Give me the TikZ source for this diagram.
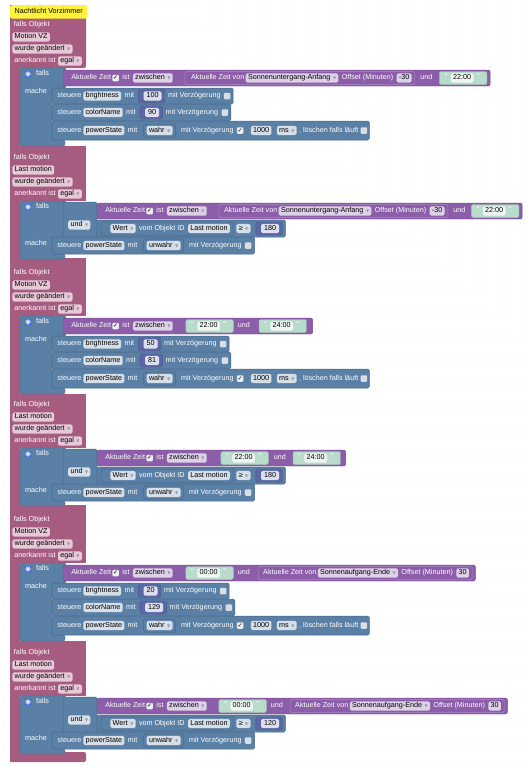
\documentclass[tikz,border=0pt]{standalone}
\usepackage{fontspec}
\setmainfont{Liberation Sans}
\newfontfamily\djv{DejaVu Sans}
\usetikzlibrary{calc}
\definecolor{pinkc}{HTML}{A65B80}
\definecolor{fkc}{HTML}{E6C8D7}
\definecolor{bluec}{HTML}{5B80A5}
\definecolor{blued}{HTML}{47688A}
\definecolor{fbc}{HTML}{D6DEE8}
\definecolor{purpc}{HTML}{8C5DA8}
\definecolor{purpd}{HTML}{734A8E}
\definecolor{purpl}{HTML}{A98CC2}
\definecolor{fpc}{HTML}{DDD1E8}
\definecolor{numc}{HTML}{5B67A5}
\definecolor{numd}{HTML}{4A558E}
\definecolor{fnc}{HTML}{DCDEEE}
\definecolor{strc}{HTML}{B8DBCC}
\definecolor{strd}{HTML}{9EC4B4}
\definecolor{fsc}{HTML}{F0F7F3}
\definecolor{chkc}{HTML}{D9DEE4}
\definecolor{ddc}{HTML}{8E96A2}
\definecolor{dotc}{HTML}{CFCFCF}
\definecolor{yelc}{HTML}{FFF23C}
\definecolor{gearc}{HTML}{3F6AD8}
\pgfdeclarelayer{gridL}\pgfdeclarelayer{pinkL}\pgfdeclarelayer{blueL}\pgfdeclarelayer{rowL}\pgfdeclarelayer{innerL}
\pgfsetlayers{gridL,pinkL,blueL,rowL,innerL,main}
\newcommand\Fs{\fontsize{7.2}{8.5}\selectfont}
\newcommand\Dd[1]{#1\hspace{2.5pt}\textcolor{ddc}{\djv\fontsize{4}{4}\selectfont ▼}}
\newcommand\CK{{\djv\fontsize{6}{6}\selectfont ✓}}
\newcommand\At[2]{\node[inner sep=0pt,minimum size=0pt] (last) at (#1,#2) {};}
\newcommand\Nx[3][3]{\node[#2,anchor=west] (last) at ([xshift=#1pt]last.east) {#3};}
\newcommand\Bs[1]{\coordinate (is) at ([xshift=#1pt]last.east);}
\newcommand\First[3][5]{\node[#2,anchor=west] (last) at ([xshift=#1pt]is) {#3};}
\newcommand\Blk[6]{%
  \pgfmathsetmacro\tya{-(#4)}\pgfmathsetmacro\tyb{-(#5)}%
  \begin{pgfonlayer}{#1}%
  \path[#2] let \p1=(last.east), \p2=#3 in (\x2,\tya pt) rectangle (\x1+#6pt,\tyb pt);%
  \end{pgfonlayer}%
  \node[inner sep=0pt,minimum size=0pt] (last) at ([xshift=#6pt]last.east) {};}
\newcommand\Str[2][7]{\Bs{#1}\First[5]{qt}{“}\Nx[3]{fs}{#2}\Nx[3]{qt}{”}\Blk{innerL}{strb}{(is)}{\B+3.5}{\B+16.5}{7}}
\newcommand\Num[3][4]{\Bs{#1}\First[5]{fn}{#3}\Blk{innerL}{numb}{(is)}{#2-6.5}{#2+6.5}{3}}
\newcommand\AZV[4][6]{\Bs{#2}\First[#1]{lbl}{Aktuelle Zeit von}\Nx[1]{fp}{\Dd{#3}}\Nx[3]{lbl}{Offset (Minuten)}\Nx[3]{fp}{#4}\Blk{innerL}{purpin}{(is)}{\B+3.5}{\B+16.5}{3}}
\newcommand\Header[1]{%
  \At{13.5}{\B-43}\Nx[0]{lbl}{falls Objekt}
  \At{12}{\B-31}\Nx[0]{fk}{#1}
  \At{12}{\B-19}\Nx[0]{fk}{\Dd{wurde geändert}}
  \At{14}{\B-7}\Nx[0]{lbl}{anerkannt ist}\Nx[2]{fk}{\Dd{egal}}}
\newcommand\GearFalls{%
  \node[gearbox] (gear) at (28,\B+6) {};
  \draw[white,line width=0.8pt] (gear.center) circle (1.3pt);
  \draw[white,line width=0.7pt,dash pattern=on 0.8pt off 0.8pt] (gear.center) circle (2.3pt);
  \node[lbl,anchor=west] (fallslbl) at (36,\B+6) {falls};}
\newcommand\PurpHead[1]{\At{#1}{\B+10}\Nx[0]{lbl}{Aktuelle Zeit}\Nx[1]{chkon}{\CK}\Nx[3]{lbl}{ist}\Nx[3]{fp}{\Dd{zwischen}}}
\newcommand\SteuA[4]{%
  \pgfmathsetmacro\yc{(#1+#2)/2}%
  \At{57}{\yc}\Nx[0]{lbl}{steuere}\Nx[1.5]{fb}{#3}\Nx[3]{lbl}{mit}%
  \Num[4]{\yc}{#4}%
  \Nx[3]{lbl}{mit Verzögerung}\Nx[3]{chk}{}%
  \Blk{rowL}{steu}{(52,0)}{#1}{#2}{2.5}}
\newcommand\SteuP[2]{%
  \pgfmathsetmacro\yc{(#1+#2)/2}%
  \At{57}{\yc}\Nx[0]{lbl}{steuere}\Nx[1.5]{fb}{powerState}\Nx[3]{lbl}{mit}%
  \Bs{6}\First[3]{fb}{\Dd{wahr}}\Blk{innerL}{boolb}{(is)}{\yc-6.5}{\yc+6.5}{3}%
  \Nx[5]{lbl}{mit Verzögerung}\Nx[3]{chkon}{\CK}\Nx[7]{fb}{1000}\Nx[5]{fb}{\Dd{ms}}\Nx[2]{lbl}{, löschen falls läuft}\Nx[2]{chk}{}%
  \Blk{rowL}{steu}{(52,0)}{#1}{#2}{2}}
\newcommand\SteuU[2]{%
  \pgfmathsetmacro\yc{(#1+#2)/2}%
  \At{57}{\yc}\Nx[0]{lbl}{steuere}\Nx[1.5]{fb}{powerState}\Nx[3]{lbl}{mit}%
  \Bs{6}\First[3]{fb}{\Dd{unwahr}}\Blk{innerL}{boolb}{(is)}{\yc-6.5}{\yc+6.5}{3}%
  \Nx[5]{lbl}{mit Verzögerung}\Nx[3]{chk}{}%
  \Blk{rowL}{steu}{(52,0)}{#1}{#2}{3}}
\newcommand\SecA[5]{%
  \def\B{#1}%
  \Header{Motion VZ}%
  \begin{pgfonlayer}{blueL}
  \draw[bluef] (20,\B) -- (66,\B) -- (66,\B+20) -- (52,\B+20) -- (52,\B+72) -- (65,\B+72) -- (65,\B+78) -- (20,\B+78) -- cycle;
  \end{pgfonlayer}
  \GearFalls
  \node[lbl,anchor=west] (machelbl) at (25,\B+24) {mache};
  \PurpHead{71}#4\Blk{rowL}{purp}{(63,0)}{\B+2}{\B+18}{#5}%
  \SteuA{\B+20}{\B+36}{brightness}{#2}%
  \SteuA{\B+36}{\B+53}{colorName}{#3}%
  \SteuP{\B+53}{\B+72}}
\newcommand\SecB[4]{%
  \def\B{#1}%
  \Header{Last motion}%
  \begin{pgfonlayer}{blueL}
  \draw[bluef] (20,\B) -- (66,\B) -- (66,\B+36) -- (52,\B+36) -- (52,\B+53) -- (65,\B+53) -- (65,\B+58) -- (20,\B+58) -- cycle;
  \end{pgfonlayer}
  \GearFalls
  \node[lbl,anchor=west] (machelbl) at (25,\B+43) {mache};
  \begin{pgfonlayer}{rowL}
  \draw[steu] (63,\B+1) rectangle (97,\B+37);
  \end{pgfonlayer}
  \node[fb,anchor=west] (undfld) at (68,\B+24) {\Dd{und}};
  \PurpHead{105}#2\Blk{rowL}{purp}{(97,0)}{\B+2}{\B+18}{#4}%
  \At{101}{\B+27.5}\Bs{0}\First[9]{fb}{\Dd{Wert}}\Nx[3]{lbl}{vom Objekt ID}\Nx[3]{fb}{Last motion}%
  \Blk{innerL}{steu}{(is)}{\B+21}{\B+34}{3}%
  \Nx[3]{fb}{\Dd{≥}}%
  \Num[5]{\B+27.5}{#3}%
  \Blk{rowL}{steu}{(97,0)}{\B+19}{\B+36}{3}%
  \SteuU{\B+36}{\B+53}}
\tikzset{
 tb/.style={font=\Fs, text height=5.2pt, text depth=1.5pt},
 lbl/.style={tb, text=white, inner sep=0pt},
 qt/.style={font=\fontsize{8.5}{9}\selectfont, text height=5.2pt, text depth=1.5pt, text=white, inner sep=0pt},
 fk/.style={tb, text=black, fill=fkc, rounded corners=1.5pt, inner xsep=2.3pt, inner ysep=1.2pt},
 fb/.style={fk, fill=fbc},
 fp/.style={fk, fill=fpc},
 fn/.style={fk, fill=fnc, inner xsep=3pt},
 fs/.style={fk, fill=fsc},
 chk/.style={fill=chkc, rounded corners=1pt, minimum size=6.5pt, inner sep=0pt},
 chkon/.style={chk, fill=white!93!black, text=black},
 bluef/.style={fill=bluec, draw=blued, line width=0.4pt, rounded corners=2pt},
 steu/.style={fill=bluec, draw=blued, line width=0.5pt, rounded corners=1.5pt},
 boolb/.style={steu},
 numb/.style={fill=numc, draw=numd, line width=0.4pt, rounded corners=1.5pt},
 strb/.style={fill=strc, draw=strd, line width=0.4pt, rounded corners=1.5pt},
 purp/.style={fill=purpc, draw=purpd, line width=0.4pt, rounded corners=2pt},
 purpin/.style={fill=purpc, draw=purpl, line width=0.5pt, rounded corners=1.5pt},
 gearbox/.style={fill=gearc, minimum size=6.5pt, inner sep=0pt, rounded corners=0.8pt},
 titlebox/.style={tb, fill=yelc, text=black, inner xsep=3.5pt, minimum height=13pt, minimum width=77pt, rounded corners=1.5pt},
}
\begin{document}
\begin{tikzpicture}[x=1pt,y=-1pt]
\useasboundingbox (0,0) rectangle (526,766);
\begin{pgfonlayer}{gridL}
\fill[white] (0,0) rectangle (526,766);
\foreach \gx in {4,16,...,524}{\foreach \gy in {4,16,...,764}{\fill[dotc] (\gx,\gy) circle (0.5pt);}}
\end{pgfonlayer}
\begin{pgfonlayer}{pinkL}
\fill[pinkc] (10,5) rectangle (20,762);
\fill[pinkc,rounded corners=2pt] (10,5) rectangle (86,68);
\fill[pinkc] (10,146) rectangle (86,201);
\fill[pinkc] (10,258) rectangle (86,316);
\fill[pinkc] (10,394) rectangle (86,448);
\fill[pinkc] (10,505) rectangle (86,563);
\fill[pinkc] (10,641) rectangle (86,696);
\fill[pinkc,rounded corners=2pt] (10,752) rectangle (86,762);
\end{pgfonlayer}
\node[titlebox,anchor=north west] (title) at (10,5) {Nachtlicht Vorzimmer};
% Section 1
\SecA{68}{100}{90}{\AZV{12}{Sonnenuntergang-Anfang}{-30}\Nx[5]{lbl}{und}\Str[7]{22:00}}{3}
% Section 2
\SecB{201}{\AZV[5]{12}{Sonnenuntergang-Anfang}{-30}\Nx[5]{lbl}{und}\Str[6]{22:00}}{180}{3}
% Section 3
\SecA{316}{50}{81}{\Str[13]{22:00}\Nx[4]{lbl}{und}\Str[9]{24:00}}{6}
% Section 4
\SecB{448}{\Str[14]{22:00}\Nx[5]{lbl}{und}\Str[7]{24:00}}{180}{5}
% Section 5
\SecA{563}{20}{129}{\Str[13]{00:00}\Nx[4]{lbl}{und}\AZV[5]{8}{Sonnenaufgang-Ende}{30}}{3}
% Section 6
\SecB{696}{\Str[12]{00:00}\Nx[4]{lbl}{und}\AZV[5]{7}{Sonnenaufgang-Ende}{30}}{120}{3}
\end{tikzpicture}
\end{document}
